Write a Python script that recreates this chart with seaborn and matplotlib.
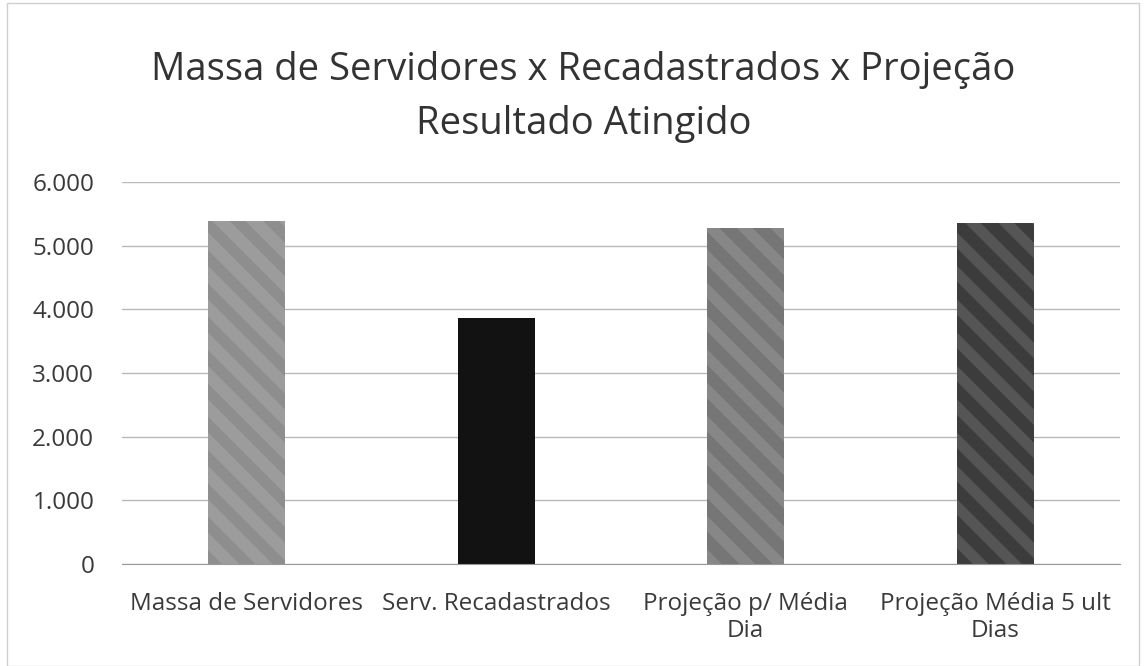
import matplotlib
matplotlib.use("Agg")
import matplotlib.pyplot as plt
import seaborn as sns
import pandas as pd

# ── data ──────────────────────────────────────────────
categorias = ["Massa de Servidores", "Serv. Recadastrados",
              "Projeção p/ Média\nDia", "Projeção Média 5 ult\nDias"]
valores = [5390, 3860, 5275, 5355]
cores = ["#8e8e8e", "#121212", "#878787", "#555555"]
hatch_cores = ["#9c9c9c", "#121212", "#767676", "#3c3c3c"]
yticks = [0, 1000, 2000, 3000, 4000, 5000, 6000]
ylabels = ["0", "1.000", "2.000", "3.000", "4.000", "5.000", "6.000"]

df = pd.DataFrame({"cat": categorias, "val": valores})

sns.set_style("white")
plt.rcParams["font.family"] = ["Open Sans", "DejaVu Sans"]
plt.rcParams["hatch.linewidth"] = 9

fig = plt.figure(figsize=(11.44, 6.66), dpi=100)
ax = fig.add_axes([0.1066, 0.1532, 0.8724, 0.5735])

sns.barplot(data=df, x="cat", y="val", hue="cat", palette=cores,
            width=0.31, legend=False, ax=ax, saturation=1)

# scanned texture look: broad, soft diagonal bands
for p, hc in zip(ax.patches, hatch_cores):
    p.set_hatch("\\")
    p.set_edgecolor(hc)
    p.set_linewidth(0)

ax.set_ylim(0, 6000)
ax.set_yticks(yticks)
ax.set_yticklabels(ylabels, fontsize=17.5, color="#3a3a3a")
ax.tick_params(axis="x", labelsize=17.5, colors="#3a3a3a", length=0, pad=20)
ax.tick_params(axis="y", length=0, pad=20)
ax.set_xlabel("")
ax.set_ylabel("")
ax.yaxis.grid(True, color="#b8b8b8", linewidth=1)
ax.set_axisbelow(True)
for s in ["top", "right", "left"]:
    ax.spines[s].set_visible(False)
ax.spines["bottom"].set_color("#999999")

fig.text(0.51, 1 - 70 / 666, "Massa de Servidores x Recadastrados x Projeção",
         ha="center", va="center", fontsize=27.5, color="#333333")
fig.text(0.51, 1 - 124 / 666, "Resultado Atingido",
         ha="center", va="center", fontsize=27.5, color="#333333")

# faint chart border
fig.patches.append(plt.Rectangle((0.006, 0.0), 0.99, 0.995, transform=fig.transFigure,
                                 fill=False, edgecolor="#cfcfcf", linewidth=1))

fig.savefig("out.png", dpi=100)
